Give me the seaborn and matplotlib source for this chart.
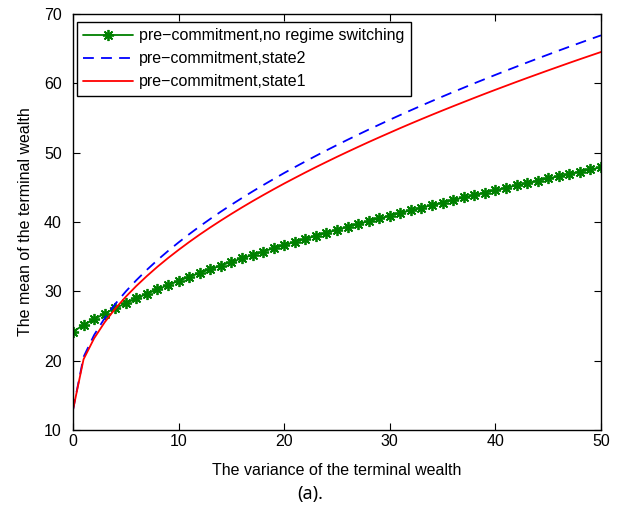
import numpy as np
import pandas as pd
import matplotlib
matplotlib.use("Agg")
import matplotlib.pyplot as plt
import seaborn as sns

variance = list(range(0, 51))

mean_no_switch = [24.20, 25.12, 25.98, 26.79, 27.56, 28.28, 28.98, 29.64, 30.28, 30.90,
                  31.50, 32.08, 32.64, 33.19, 33.72, 34.24, 34.75, 35.25, 35.73, 36.21,
                  36.67, 37.13, 37.58, 38.02, 38.45, 38.88, 39.30, 39.71, 40.12, 40.52,
                  40.92, 41.31, 41.69, 42.07, 42.44, 42.81, 43.18, 43.54, 43.90, 44.25,
                  44.60, 44.94, 45.29, 45.62, 45.96, 46.29, 46.62, 46.94, 47.26, 47.58,
                  47.90]

mean_state2 = [12.90, 20.54, 23.70, 26.13, 28.18, 29.98, 31.61, 33.11, 34.51, 35.82,
               37.06, 38.24, 39.37, 40.45, 41.49, 42.49, 43.46, 44.40, 45.31, 46.20,
               47.07, 47.91, 48.73, 49.54, 50.33, 51.10, 51.86, 52.60, 53.33, 54.04,
               54.75, 55.44, 56.12, 56.79, 57.45, 58.10, 58.74, 59.37, 60.00, 60.61,
               61.22, 61.82, 62.41, 63.00, 63.58, 64.15, 64.72, 65.28, 65.83, 66.38,
               66.92]

mean_state1 = [12.90, 20.20, 23.22, 25.54, 27.50, 29.22, 30.78, 32.21, 33.55, 34.80,
               35.98, 37.11, 38.19, 39.22, 40.21, 41.17, 42.10, 43.00, 43.87, 44.72,
               45.55, 46.35, 47.14, 47.91, 48.66, 49.40, 50.12, 50.83, 51.53, 52.21,
               52.88, 53.55, 54.20, 54.84, 55.47, 56.09, 56.70, 57.30, 57.90, 58.49,
               59.07, 59.64, 60.21, 60.77, 61.32, 61.87, 62.41, 62.95, 63.48, 64.00,
               64.52]

labels = ["pre\u2212commitment,no regime switching",
          "pre\u2212commitment,state2",
          "pre\u2212commitment,state1"]

x_ticks = [0, 10, 20, 30, 40, 50]
y_ticks = [10, 20, 30, 40, 50, 60, 70]

sns.set_style("ticks")
plt.rcParams['font.family'] = ['Liberation Sans', 'DejaVu Sans']
plt.rcParams['text.color'] = 'black'
plt.rcParams['axes.labelcolor'] = 'black'
plt.rcParams['xtick.color'] = 'black'
plt.rcParams['ytick.color'] = 'black'

FS = 11.5

fig = plt.figure(figsize=(6.22, 5.13), dpi=100)
ax = fig.add_axes([73 / 622, 1 - 430 / 513, 528 / 622, 416 / 513])

sns.lineplot(x=variance, y=mean_no_switch, ax=ax, color="#008000", lw=1.3,
             marker=(8, 2, 0), markersize=8, markeredgewidth=1.3,
             markeredgecolor="#008000", label=labels[0])
sns.lineplot(x=variance, y=mean_state2, ax=ax, color="#0000ff", lw=1.3,
             linestyle=(0, (6, 4)), label=labels[1])
sns.lineplot(x=variance, y=mean_state1, ax=ax, color="#ff0000", lw=1.3,
             label=labels[2])

ax.set_xlim(0, 50)
ax.set_ylim(10, 70)
ax.set_xticks(x_ticks)
ax.set_yticks(y_ticks)
ax.tick_params(direction='in', top=True, right=True, length=5, width=0.8,
               labelsize=FS, colors='black')
ax.tick_params(axis='y', pad=8)
ax.tick_params(axis='x', pad=3)
for s in ax.spines.values():
    s.set_visible(True)
    s.set_color('black')
    s.set_linewidth(1.0)

ax.set_xlabel("The variance of the terminal wealth", fontsize=FS, labelpad=10,
              color='black')
ax.set_ylabel("The mean of the terminal wealth", fontsize=FS, labelpad=8,
              color='black')

leg = ax.legend(loc='upper left', bbox_to_anchor=(4 / 528, 1 - 8 / 416),
                borderaxespad=0, fontsize=FS, frameon=True, fancybox=False,
                edgecolor='black', borderpad=0.4, labelspacing=0.5,
                handlelength=3.1, handletextpad=0.4)
leg.get_frame().set_linewidth(1.0)
leg.get_frame().set_alpha(1)
for t in leg.get_texts():
    t.set_color('black')

fig.text(310 / 622, 1 - 494 / 513, "(a).", ha='center', va='center',
         fontsize=13, color='black', family=['Noto Sans', 'DejaVu Sans'])

fig.savefig("out.png", dpi=100)
